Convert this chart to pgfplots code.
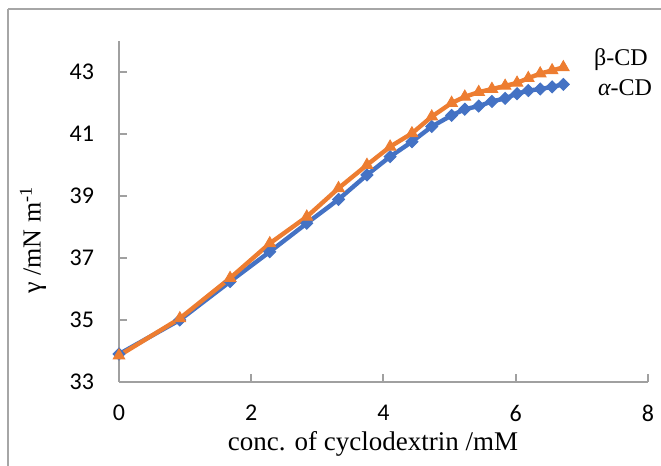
\documentclass[border=0pt]{standalone}
\usepackage{fontspec}
\setmainfont{Liberation Serif}
\newfontfamily\calibri{Carlito}
\usepackage{pgfplots}
\pgfplotsset{compat=1.18}
\definecolor{cdblue}{HTML}{4472C4}
\definecolor{cdorange}{HTML}{ED7D31}
\definecolor{axgray}{HTML}{A0A0A0}

% concentration of cyclodextrin (mM) vs surface tension (mN/m)
\pgfplotstableread{
x     alpha   beta
0.00  33.90   33.85
0.92  35.00   35.05
1.68  36.24   36.35
2.28  37.20   37.47
2.84  38.12   38.33
3.32  38.89   39.25
3.75  39.68   40.00
4.10  40.27   40.59
4.43  40.75   41.02
4.73  41.24   41.56
5.03  41.60   42.00
5.23  41.80   42.20
5.44  41.90   42.35
5.64  42.05   42.45
5.84  42.15   42.55
6.02  42.30   42.65
6.19  42.40   42.80
6.37  42.45   42.95
6.55  42.52   43.05
6.72  42.60   43.15
}\cdtable

\begin{document}
\begin{tikzpicture}
\useasboundingbox (-59.5pt,-42pt) rectangle (271pt,191pt);
\draw[gray!70, line width=0.8pt] (-55.5pt,186.5pt) -- (280pt,186.5pt);
\draw[gray!70, line width=0.8pt] (-55.5pt,186.5pt) -- (-55.5pt,-60pt);
\begin{axis}[
  at={(0pt,0pt)}, anchor=south west,
  scale only axis, width=264.5pt, height=170.5pt,
  xmin=0, xmax=8, ymin=33, ymax=44,
  xtick={0,2,...,8}, ytick={33,35,...,43},
  axis x line*=bottom, axis y line*=left,
  axis line style={axgray, line width=1pt, -},
  tick style={axgray, line width=1pt},
  tick align=inside, major tick length=4pt,
  ticklabel style={font=\calibri\fontsize{12}{14}\selectfont, text=black},
  /pgf/number format/assume math mode=true,
  xticklabel style={yshift=-8pt},
  yticklabel style={xshift=-9pt},
  clip=false,
]
\addplot[cdblue, line width=2.2pt, mark=square*, mark size=2.1pt,
  mark options={rotate=45, fill=cdblue, draw=cdblue, line width=0.5pt}]
  table[x=x, y=alpha] {\cdtable};
\addplot[cdorange, line width=2.2pt, mark=triangle*, mark size=3.3pt,
  mark options={fill=cdorange, draw=cdorange, line width=0.5pt}]
  table[x=x, y=beta] {\cdtable};
\end{axis}
\node[anchor=west, font=\fontsize{12}{14}\selectfont] at (234pt,161pt) {β-CD};
\node[anchor=west, font=\fontsize{12}{14}\selectfont] at (236pt,147pt) {{\itshape α}-CD};
\node[font=\fontsize{13.5}{15}\selectfont] at (127pt,-31pt) {conc. of cyclodextrin /mM};
\node[rotate=90, font=\fontsize{13}{15}\selectfont] at (-43pt,71pt) {γ /mN m\textsuperscript{-1}};
\end{tikzpicture}
\end{document}
